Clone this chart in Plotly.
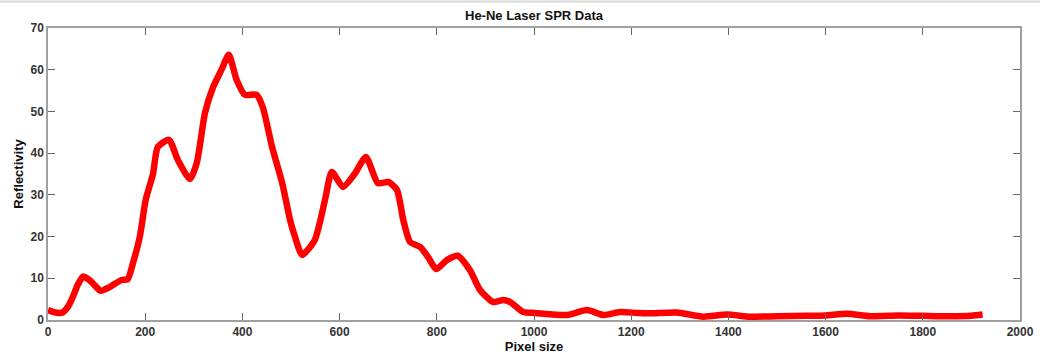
import plotly.graph_objects as go

# Reflectivity profile of the He-Ne laser SPR measurement
pixel = [0, 12, 24, 30, 40, 51, 61, 72, 85, 97, 108, 127, 151, 164, 175, 189, 201,
         216, 226, 249, 267, 292, 306, 323, 340, 357, 372, 388, 405, 429, 442, 461,
         482, 498, 508, 523, 549, 570, 584, 607, 632, 654, 679, 700, 718, 731, 745,
         766, 783, 799, 821, 843, 868, 889, 916, 937, 951, 978, 1002, 1068, 1109,
         1143, 1177, 1212, 1239, 1294, 1348, 1397, 1444, 1500, 1560, 1600, 1644,
         1692, 1750, 1800, 1850, 1900, 1923]
reflectivity = [2.4, 1.9, 1.7, 1.8, 3.0, 5.5, 8.4, 10.4, 9.6, 8.2, 7.0, 7.9, 9.6, 9.8,
                13.7, 20.0, 28.8, 35.0, 41.5, 43.2, 38.4, 33.8, 37.6, 49.6, 55.9, 60.0,
                63.6, 57.6, 54.0, 54.0, 51.0, 41.5, 32.8, 24.0, 20.0, 15.6, 19.2, 28.8,
                35.5, 31.9, 35.2, 39.1, 32.8, 33.1, 31.2, 24.0, 18.7, 17.5, 14.9, 12.2,
                14.4, 15.4, 12.0, 7.2, 4.3, 4.8, 4.3, 1.9, 1.7, 1.2, 2.4, 1.2, 1.9, 1.7,
                1.6, 1.8, 0.8, 1.3, 0.8, 0.9, 1.0, 1.1, 1.5, 0.9, 1.1, 1.0, 0.9, 1.0, 1.3]

x_ticks = [0, 200, 400, 600, 800, 1000, 1200, 1400, 1600, 1800, 2000]
y_ticks = [0, 10, 20, 30, 40, 50, 60, 70]

axis_grey = "#a0a0a0"
label_color = "#333333"
font_family = "Liberation Sans, Arial, Helvetica, sans-serif"

fig = go.Figure()
fig.add_trace(go.Scatter(
    x=pixel, y=reflectivity, mode="lines",
    line=dict(color="#ff0000", width=6.5, shape="spline", smoothing=0.6),
    showlegend=False,
))

common_axis = dict(
    automargin=False,
    showgrid=False, zeroline=False, showline=True, linecolor=axis_grey, linewidth=1.5,
    mirror="ticks", ticks="inside", ticklen=7, tickcolor="#666666", tickwidth=1,
    tickfont=dict(family=font_family, size=12, color=label_color, weight="bold"),
)

fig.update_layout(
    width=1040, height=356,
    margin=dict(l=48, r=20, t=28, b=36, autoexpand=False),
    paper_bgcolor="white", plot_bgcolor="white",
    title=dict(text="He-Ne Laser SPR Data", x=0.5, xref="paper", xanchor="center",
               y=1 - 15 / 356, yanchor="middle", automargin=False,
               font=dict(family=font_family, size=13, color="#111111", weight="bold")),
    xaxis=dict(range=[0, 2000], tickvals=x_ticks, ticktext=[str(v) for v in x_ticks],
               title=dict(text="Pixel size", standoff=2,
                          font=dict(family=font_family, size=13, color="#111111", weight="bold")),
               **common_axis),
    yaxis=dict(range=[0, 70], tickvals=y_ticks, ticktext=[str(v) for v in y_ticks],
               title=dict(text="Reflectivity", standoff=4,
                          font=dict(family=font_family, size=13, color="#111111", weight="bold")),
               **common_axis),
    shapes=[dict(type="line", xref="paper", yref="paper",
                 x0=-0.06, x1=1.03, y0=1 + 26.5 / 292, y1=1 + 26.5 / 292,
                 line=dict(color="#d8d8d8", width=2))],
)

fig.write_html("out.html")
